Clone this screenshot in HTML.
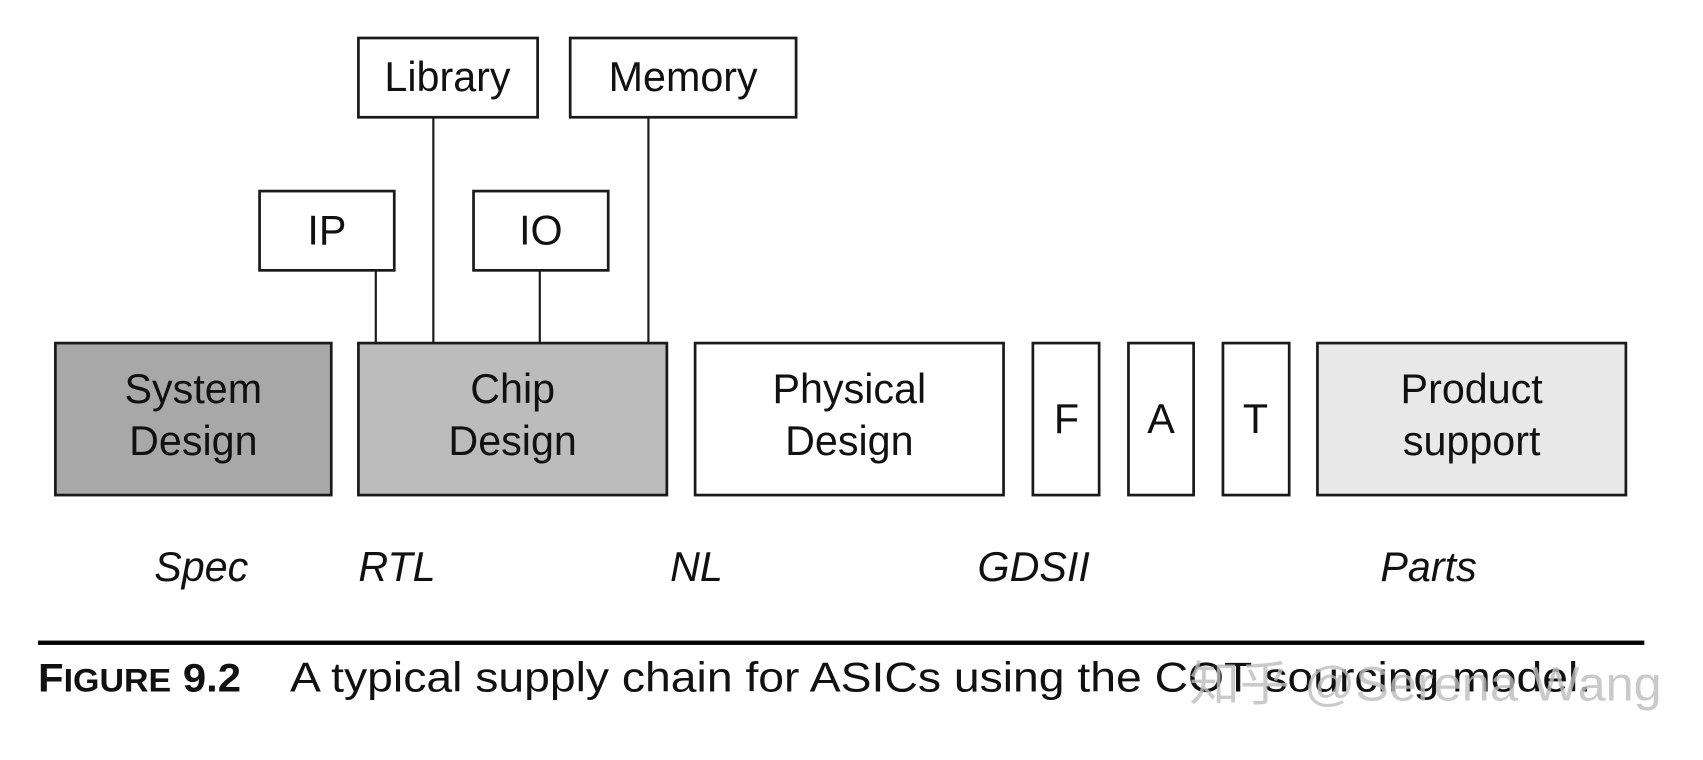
<!DOCTYPE html>
<html><head><meta charset="utf-8"><style>html,body{margin:0;padding:0;background:#fff}svg{display:block}</style></head>
<body>
<svg width="1703" height="760" viewBox="0 0 1568 700" preserveAspectRatio="none" xmlns="http://www.w3.org/2000/svg" font-family="Liberation Sans, Arial, sans-serif">
<g stroke="#1a1a1a" stroke-width="2.5">
<rect x="330" y="35" width="165" height="73" fill="#fff"/>
<rect x="525" y="35" width="208" height="73" fill="#fff"/>
<rect x="239" y="176" width="124" height="73" fill="#fff"/>
<rect x="436" y="176" width="124" height="73" fill="#fff"/>
<line x1="346" y1="249" x2="346" y2="316" stroke-width="2"/>
<line x1="399" y1="108" x2="399" y2="316" stroke-width="2"/>
<line x1="497" y1="249" x2="497" y2="316" stroke-width="2"/>
<line x1="597" y1="108" x2="597" y2="316" stroke-width="2"/>
<rect x="51" y="316" width="254" height="140" fill="#a8a8a8"/>
<rect x="330" y="316" width="284" height="140" fill="#bcbcbc"/>
<rect x="640" y="316" width="284" height="140" fill="#fff"/>
<rect x="951" y="316" width="61" height="140" fill="#fff"/>
<rect x="1039" y="316" width="60" height="140" fill="#fff"/>
<rect x="1126" y="316" width="61" height="140" fill="#fff"/>
<rect x="1213" y="316" width="284" height="140" fill="#e8e8e8"/>
</g>
<g font-size="38" fill="#111" text-anchor="middle">
<text x="412" y="84">Library</text>
<text x="629" y="84">Memory</text>
<text x="301" y="225">IP</text>
<text x="498" y="225">IO</text>
<text x="178" y="371">System</text><text x="178" y="419">Design</text>
<text x="472" y="371">Chip</text><text x="472" y="419">Design</text>
<text x="782" y="371">Physical</text><text x="782" y="419">Design</text>
<text x="982" y="399">F</text>
<text x="1069" y="399">A</text>
<text x="1156" y="399">T</text>
<text x="1355" y="371">Product</text><text x="1355" y="419">support</text>
</g>
<g font-size="38" fill="#111" font-style="italic">
<text x="142" y="535">Spec</text>
<text x="330" y="535">RTL</text>
<text x="617" y="535">NL</text>
<text x="900" y="535">GDSII</text>
<text x="1271" y="535">Parts</text>
</g>
<rect x="35" y="590" width="1479" height="4" fill="#000"/>
<text x="35" y="637" font-size="37" font-weight="bold" fill="#111" textLength="187" lengthAdjust="spacingAndGlyphs">F<tspan font-size="30">IGURE</tspan> 9.2</text>
<text x="267" y="637" font-size="38" fill="#111" textLength="1198" lengthAdjust="spacingAndGlyphs">A typical supply chain for ASICs using the COT sourcing model.</text>
<text x="1095" y="645" font-size="44" fill="#bdbdbd" fill-opacity="0.8" font-family="Liberation Sans, Noto Sans CJK SC, sans-serif" textLength="435" lengthAdjust="spacingAndGlyphs">知乎 @Serena Wang</text>
</svg>
</body></html>
